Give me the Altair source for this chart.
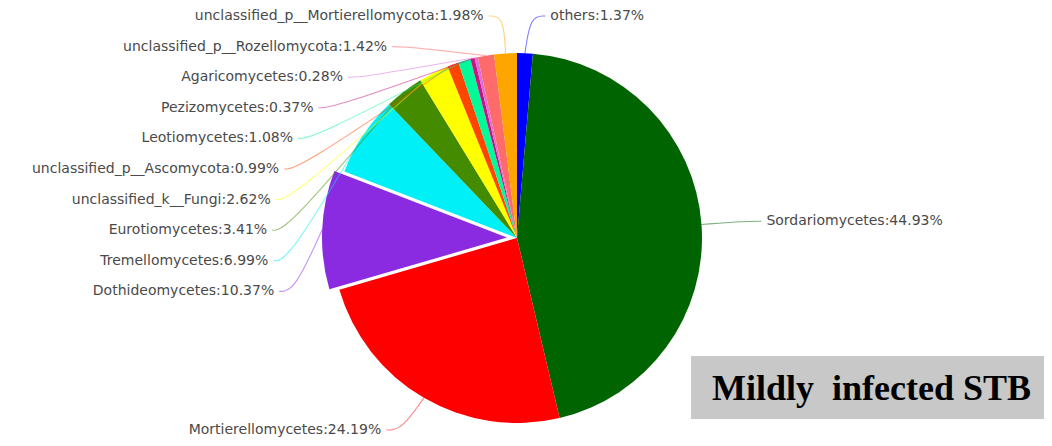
import math
import altair as alt
import pandas as pd

# ---------------- data ----------------
names = ["others", "Sordariomycetes", "Mortierellomycetes", "Dothideomycetes",
         "Tremellomycetes", "Eurotiomycetes", "unclassified_k__Fungi",
         "unclassified_p__Ascomycota", "Leotiomycetes", "Pezizomycetes",
         "Agaricomycetes", "unclassified_p__Rozellomycota",
         "unclassified_p__Mortierellomycota"]
percents = [1.37, 44.93, 24.19, 10.37, 6.99, 3.41, 2.62, 0.99, 1.08, 0.37, 0.28, 1.42, 1.98]
colors = ["#0000ff", "#006400", "#ff0000", "#8a2be2", "#00f0f8", "#458b00", "#ffff00",
          "#ff4500", "#00fa9a", "#c71585", "#da70d6", "#ff6a6a", "#ffa500"]
exploded = ["Dothideomycetes"]
box_title = "Mildly\u00a0\u00a0infected STB"

# ---------------- layout constants (image pixel space) ----------------
CX, CY, R = 517.0, 238.0, 185.0
EXPLODE = 10.0
LEN1, LEN2, GAP = 45.0, 15.0, 5.0
LABEL_TOP, LABEL_BOTTOM, LINE_H = 16.0, 430.0, 30.6
RX, RY = 250.0, 224.0

total = sum(percents)
pie_rows, line_rows, text_rows = [], [], []
acc = 0.0
info = []
for n, p, c in zip(names, percents, colors):
    t0 = acc / total * 2 * math.pi
    acc += p
    t1 = acc / total * 2 * math.pi
    mid = (t0 + t1) / 2
    off = EXPLODE if n in exploded else 0.0
    ox, oy = CX + off * math.sin(mid), CY - off * math.cos(mid)
    pie_rows.append(dict(name=n, t0=t0, t1=t1, cx=ox, cy=oy, color=c))
    side = -1 if math.sin(mid) < 0 else 1
    ny = CY - (R + LEN1) * math.cos(mid)
    info.append(dict(name=n, pct=p, color=c, mid=mid, side=side, ny=ny, ox=ox, oy=oy))

# resolve overlaps per side (push downwards from top bound)
for side in (-1, 1):
    items = sorted([d for d in info if d["side"] == side], key=lambda d: d["ny"])
    prev = None
    for d in items:
        y = max(d["ny"], LABEL_TOP) if prev is None else max(d["ny"], prev + LINE_H)
        d["shifted"] = abs(y - d["ny"]) > 0.5
        d["ly"] = min(y, LABEL_BOTTOM)
        prev = y

for d in info:
    mid, side = d["mid"], d["side"]
    p0 = (d["ox"] + R * math.sin(mid), d["oy"] - R * math.cos(mid))
    if d["shifted"]:
        dy = d["ly"] - CY
        ex = RX * math.sqrt(max(0.0, 1 - (dy / RY) ** 2))
        tx = CX + side * ex
        p2 = (tx - side * GAP, d["ly"])
        p1 = (p2[0] - side * LEN2, d["ly"])
    else:
        p1 = (CX + (R + LEN1) * math.sin(mid), d["ly"])
        p2 = (p1[0] + side * LEN2, d["ly"])
        tx = p2[0] + side * GAP
    for i, pt in enumerate((p0, p1, p2)):
        line_rows.append(dict(name=d["name"], order=i, x=pt[0], y=pt[1], color=d["color"]))
    text_rows.append(dict(label=f'{d["name"]}:{d["pct"]:.2f}%', x=tx, y=d["ly"],
                          align="right" if side < 0 else "left"))

pie_df = pd.DataFrame(pie_rows)
line_df = pd.DataFrame(line_rows)
text_df = pd.DataFrame(text_rows)
box_df = pd.DataFrame([dict(x=691, x2=1044, y=356, y2=419, tx=712, ty=400, label=box_title)])

# data coordinates are image pixels; the plot starts at the 8px page margin
xs = alt.Scale(domain=[8, 1044], nice=False, zero=False)
ys = alt.Scale(domain=[8, 438], nice=False, zero=False, reverse=True)

pie = alt.Chart(pie_df).mark_arc(radius=R).encode(
    x=alt.X("cx:Q", scale=xs, axis=None),
    y=alt.Y("cy:Q", scale=ys, axis=None),
    theta=alt.Theta("t0:Q", scale=None, stack=None),
    theta2="t1:Q",
    color=alt.Color("color:N", scale=None),
)

lines = alt.Chart(line_df).mark_line(strokeWidth=1.1, opacity=0.5, interpolate="basis").encode(
    x=alt.X("x:Q", scale=xs, axis=None),
    y=alt.Y("y:Q", scale=ys, axis=None),
    detail="name:N",
    order="order:Q",
    color=alt.Color("color:N", scale=None),
)

left_text = alt.Chart(text_df[text_df["align"] == "right"]).mark_text(
    align="right", baseline="middle", font="DejaVu Sans", fontSize=14, color="#4a4a4a"
).encode(x=alt.X("x:Q", scale=xs, axis=None), y=alt.Y("y:Q", scale=ys, axis=None), text="label:N")

right_text = alt.Chart(text_df[text_df["align"] == "left"]).mark_text(
    align="left", baseline="middle", font="DejaVu Sans", fontSize=14, color="#4a4a4a"
).encode(x=alt.X("x:Q", scale=xs, axis=None), y=alt.Y("y:Q", scale=ys, axis=None), text="label:N")

box = alt.Chart(box_df).mark_rect(color="#c8c8c8").encode(
    x=alt.X("x:Q", scale=xs, axis=None), x2="x2:Q",
    y=alt.Y("y:Q", scale=ys, axis=None), y2="y2:Q",
)
box_text = alt.Chart(box_df).mark_text(
    align="left", baseline="alphabetic", font="Liberation Serif", fontSize=36,
    fontWeight="bold", color="#000000"
).encode(x=alt.X("tx:Q", scale=xs, axis=None), y=alt.Y("ty:Q", scale=ys, axis=None), text="label:N")

chart = alt.layer(pie, lines, left_text, right_text, box, box_text).properties(
    width=1036, height=430, padding=0, background="white",
    autosize=alt.AutoSizeParams(type="none"),
).configure_view(stroke=None)

chart.save("out.html", embed_options={"renderer": "svg", "actions": False})
